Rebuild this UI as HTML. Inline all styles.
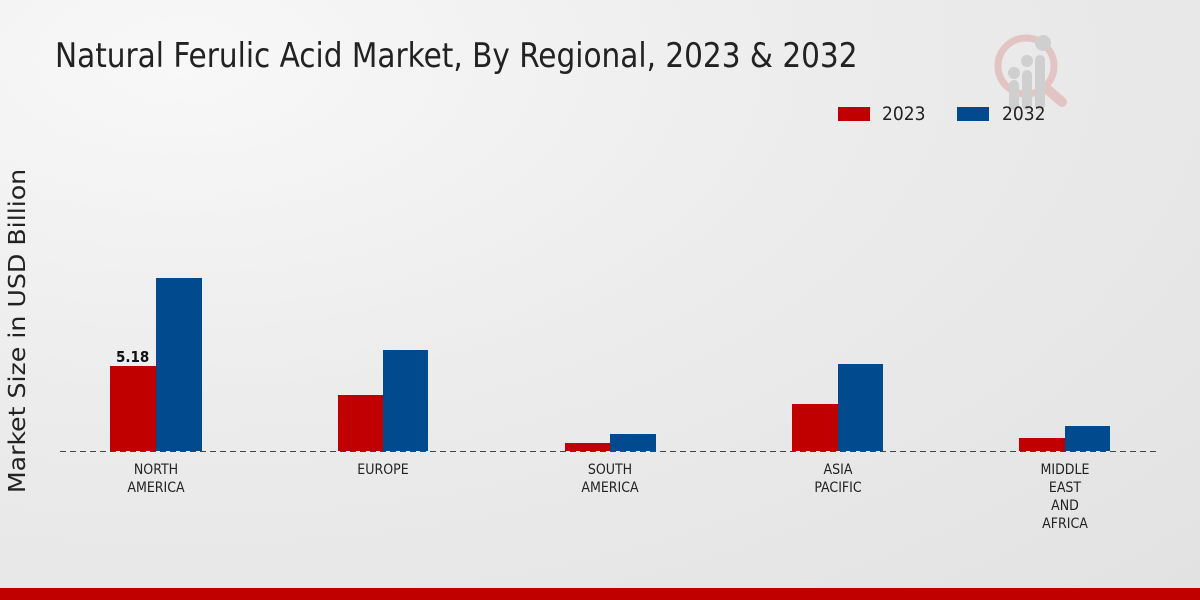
<!DOCTYPE html>
<html><head><meta charset="utf-8"><style>
html,body{margin:0;padding:0}
body{width:1200px;height:600px;overflow:hidden;background:radial-gradient(ellipse at 15% 10%,#f8f8f8 0%,#ececec 45%,#e2e2e2 100%);font-family:"DejaVu Sans Condensed","Liberation Sans",sans-serif;position:relative}
.t{position:absolute;white-space:nowrap}
.b{position:absolute}
.r{background:#c00000}.u{background:#004a8d}
.xl{position:absolute;width:120px;text-align:center;font-size:14px;line-height:18px;color:#222;top:461px}
</style></head><body>
<div class="t" style="left:55px;top:36px;font-size:34px;color:#222;transform:scaleX(0.966);transform-origin:left">Natural Ferulic Acid Market, By Regional, 2023 &amp; 2032</div>
<svg style="position:absolute;left:990px;top:30px" width="85" height="85" viewBox="0 0 85 85">
<circle cx="36" cy="36" r="28" fill="none" stroke="#e3c4c4" stroke-width="7"/>
<line x1="56" y1="58" x2="72" y2="72" stroke="#e3c4c4" stroke-width="10" stroke-linecap="round"/>
<rect x="19" y="50" width="10" height="30" rx="5" fill="#cfcfcf"/><rect x="32" y="40" width="10" height="40" rx="5" fill="#cfcfcf"/><rect x="45" y="25" width="10" height="55" rx="5" fill="#cfcfcf"/>
<circle cx="24" cy="43" r="6" fill="#cfcfcf"/><circle cx="37" cy="31" r="6" fill="#cfcfcf"/><circle cx="53" cy="13" r="8" fill="#cfcfcf"/>
</svg>
<div class="b r" style="left:838px;top:107px;width:32px;height:14px"></div>
<div class="t" style="left:882px;top:103px;font-size:19px;color:#222">2023</div>
<div class="b u" style="left:957px;top:107px;width:32px;height:14px"></div>
<div class="t" style="left:1002px;top:103px;font-size:19px;color:#222">2032</div>
<div class="t" style="left:-132px;top:317px;font-size:23px;line-height:28px;color:#222;transform:rotate(-90deg) scaleX(1.22);width:300px;text-align:center">Market Size in USD Billion</div>
<div class="b r" style="left:110px;top:366px;width:46px;height:85px"></div>
<div class="b u" style="left:156px;top:278px;width:46px;height:173px"></div>
<div class="b r" style="left:338px;top:395px;width:45px;height:56px"></div>
<div class="b u" style="left:383px;top:350px;width:45px;height:101px"></div>
<div class="b r" style="left:565px;top:443px;width:45px;height:8px"></div>
<div class="b u" style="left:610px;top:434px;width:46px;height:17px"></div>
<div class="b r" style="left:792px;top:404px;width:46px;height:47px"></div>
<div class="b u" style="left:838px;top:364px;width:45px;height:87px"></div>
<div class="b r" style="left:1019px;top:438px;width:46px;height:13px"></div>
<div class="b u" style="left:1065px;top:426px;width:45px;height:25px"></div>
<div class="t" style="left:116px;top:348px;font-size:15px;font-weight:bold;color:#111">5.18</div>
<svg style="position:absolute;left:60px;top:450px" width="1100" height="3"><line x1="0" y1="1.5" x2="1100" y2="1.5" stroke="#444" stroke-width="1" stroke-dasharray="6,4"/></svg>
<div class="xl" style="left:96px">NORTH<br>AMERICA</div>
<div class="xl" style="left:323px">EUROPE</div>
<div class="xl" style="left:550px">SOUTH<br>AMERICA</div>
<div class="xl" style="left:778px">ASIA<br>PACIFIC</div>
<div class="xl" style="left:1005px">MIDDLE<br>EAST<br>AND<br>AFRICA</div>
<div class="b" style="left:0;top:588px;width:1200px;height:12px;background:#c00000"></div>
</body></html>
